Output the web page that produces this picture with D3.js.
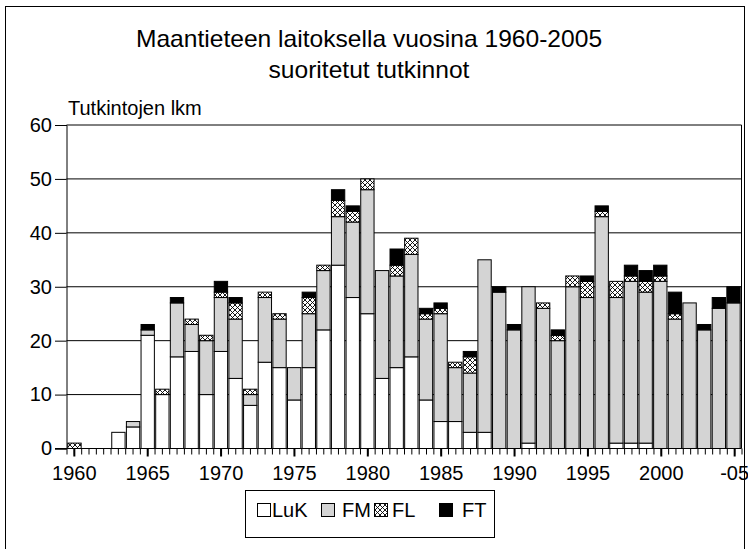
<!DOCTYPE html>
<html><head><meta charset="utf-8">
<script src="https://cdn.jsdelivr.net/npm/d3@7"></script>
<style>
html,body{margin:0;padding:0;background:#fff;}
svg{display:block;font-family:"Liberation Sans",Arial,sans-serif;}
</style></head>
<body>
<svg id="chart" width="748" height="549"></svg>
<script>
const years = d3.range(1960, 2006);
const LuK = [0,0,0,3,4,21,10,17,18,10,18,13,8,16,15,9,15,22,34,28,25,13,15,17,9,5,5,3,3,0,0,1,0,0,0,0,0,1,1,1,0,0,0,0,0,0];
const FM  = [0,0,0,0,1,1,0,10,5,10,10,11,2,12,9,6,10,11,9,14,23,20,17,19,15,20,10,11,32,29,22,29,26,20,30,28,43,27,30,28,31,24,27,22,26,27];
const FL  = [1,0,0,0,0,0,1,0,1,1,1,3,1,1,1,0,3,1,3,2,2,0,2,3,1,1,1,3,0,0,0,0,1,1,2,3,1,3,1,2,1,1,0,0,0,0];
const FT  = [0,0,0,0,0,1,0,1,0,0,2,1,0,0,0,0,1,0,2,1,0,0,3,0,1,1,0,1,0,1,1,0,0,1,0,1,1,0,2,2,2,4,0,1,2,3];
const seriesNames = ["LuK","FM","FL","FT"];
const yTicks = [0,10,20,30,40,50,60];
const xTickYears = [1960,1965,1970,1975,1980,1985,1990,1995,2000,2005];
const xTickLabels = ["1960","1965","1970","1975","1980","1985","1990","1995","2000","-05"];
const titleLines = ["Maantieteen laitoksella vuosina 1960-2005","suoritetut tutkinnot"];
const yTitle = "Tutkintojen lkm";

const svg = d3.select("#chart");
const defs = svg.append("defs");
const pat = defs.append("pattern").attr("id","hatch").attr("patternUnits","userSpaceOnUse")
  .attr("width",5).attr("height",5);
pat.append("rect").attr("width",5).attr("height",5).attr("fill","#fff");
pat.append("path").attr("d","M0,0L5,5M5,0L0,5M-1,4L1,6M4,-1L6,1M-1,1L1,-1M4,6L6,4")
  .attr("stroke","#000").attr("stroke-width",0.9);

const fills = {LuK:"#ffffff", FM:"#d4d4d4", FL:"url(#hatch)", FT:"#000000"};

// outer frame
svg.append("rect").attr("x",5.5).attr("y",6.5).attr("width",739).attr("height",560)
  .attr("fill","none").attr("stroke","#000").attr("stroke-width",1);

const L = 66.5, R = 741.5, T = 125, B = 448.5;
const x = d3.scaleBand().domain(years).range([L, R]).padding(0.09);
const xl = d3.scaleLinear().domain([1959.5, 2005.5]).range([L, R]);
const y = d3.scaleLinear().domain([0,60]).range([B, T]);

// gridlines
svg.append("g").selectAll("line").data(yTicks.filter(v=>v>0)).join("line")
  .attr("x1",L).attr("x2",R).attr("y1",d=>y(d)).attr("y2",d=>y(d))
  .attr("stroke","#000").attr("stroke-width",1);
// right border
svg.append("line").attr("x1",R).attr("x2",R).attr("y1",T).attr("y2",B).attr("stroke","#000");

// stacked data
const table = years.map((yr,i)=>({year:yr, LuK:LuK[i], FM:FM[i], FL:FL[i], FT:FT[i]}));
const stack = d3.stack().keys(seriesNames)(table);
svg.append("g").selectAll("g").data(stack).join("g")
  .attr("fill", d=>fills[d.key])
  .selectAll("rect").data(d=>d.filter(p=>p[1]-p[0]>0)).join("rect")
  .attr("x", d=>x(d.data.year)).attr("width", x.bandwidth())
  .attr("y", d=>y(d[1])).attr("height", d=>y(d[0])-y(d[1]))
  .attr("stroke","#000").attr("stroke-width",1);

// y axis
const yAxis = svg.append("g").attr("transform",`translate(${L},0)`)
  .call(d3.axisLeft(y).tickValues(yTicks).tickSize(11.5).tickPadding(3).tickFormat(d3.format("d")));
yAxis.select(".domain").attr("stroke","#000");
yAxis.selectAll("text").attr("font-size",20).attr("fill","#000").attr("font-family",'"Liberation Sans",Arial,sans-serif');

// x axis minor ticks
const xMinor = svg.append("g").attr("transform",`translate(0,${B})`)
  .call(d3.axisBottom(xl).tickValues(d3.range(1959.5, 2005.51, 0.5)).tickSize(6).tickFormat(""));
xMinor.select(".domain").remove();
// x axis major
const xAxis = svg.append("g").attr("transform",`translate(0,${B})`)
  .call(d3.axisBottom(xl).tickValues(xTickYears).tickSize(8).tickPadding(9)
    .tickFormat((d,i)=>xTickLabels[i]));
xAxis.select(".domain").attr("d",`M${L-11.5},0H${R}`).attr("stroke","#000");
xAxis.selectAll(".tick line").attr("stroke-width",2);
xAxis.selectAll("text").attr("font-size",20).attr("fill","#000").attr("font-family",'"Liberation Sans",Arial,sans-serif');

// titles
const tY = [46.5, 77.5];
titleLines.forEach((t,i)=>{
  svg.append("text").attr("transform",`translate(369,${tY[i]}) scale(1.07,1)`)
    .attr("text-anchor","middle").attr("font-size",23).attr("fill","#000").text(t);
});
svg.append("text").attr("x",68).attr("y",115).attr("font-size",20).attr("fill","#000").text(yTitle);

// legend
const lg = svg.append("g");
lg.append("rect").attr("x",245.5).attr("y",490.5).attr("width",249).attr("height",47)
  .attr("fill","#fff").attr("stroke","#000");
const swX = [257.5, 321.5, 374.5, 439.5];
const txX = [272, 342, 392, 462];
seriesNames.forEach((k,i)=>{
  lg.append("rect").attr("x",swX[i]).attr("y",503.5).attr("width",13).attr("height",13)
    .attr("fill",fills[k]).attr("stroke","#000");
  lg.append("text").attr("x",txX[i]).attr("y",517).attr("font-size",20).attr("fill","#000").text(k);
});
</script>
</body></html>
